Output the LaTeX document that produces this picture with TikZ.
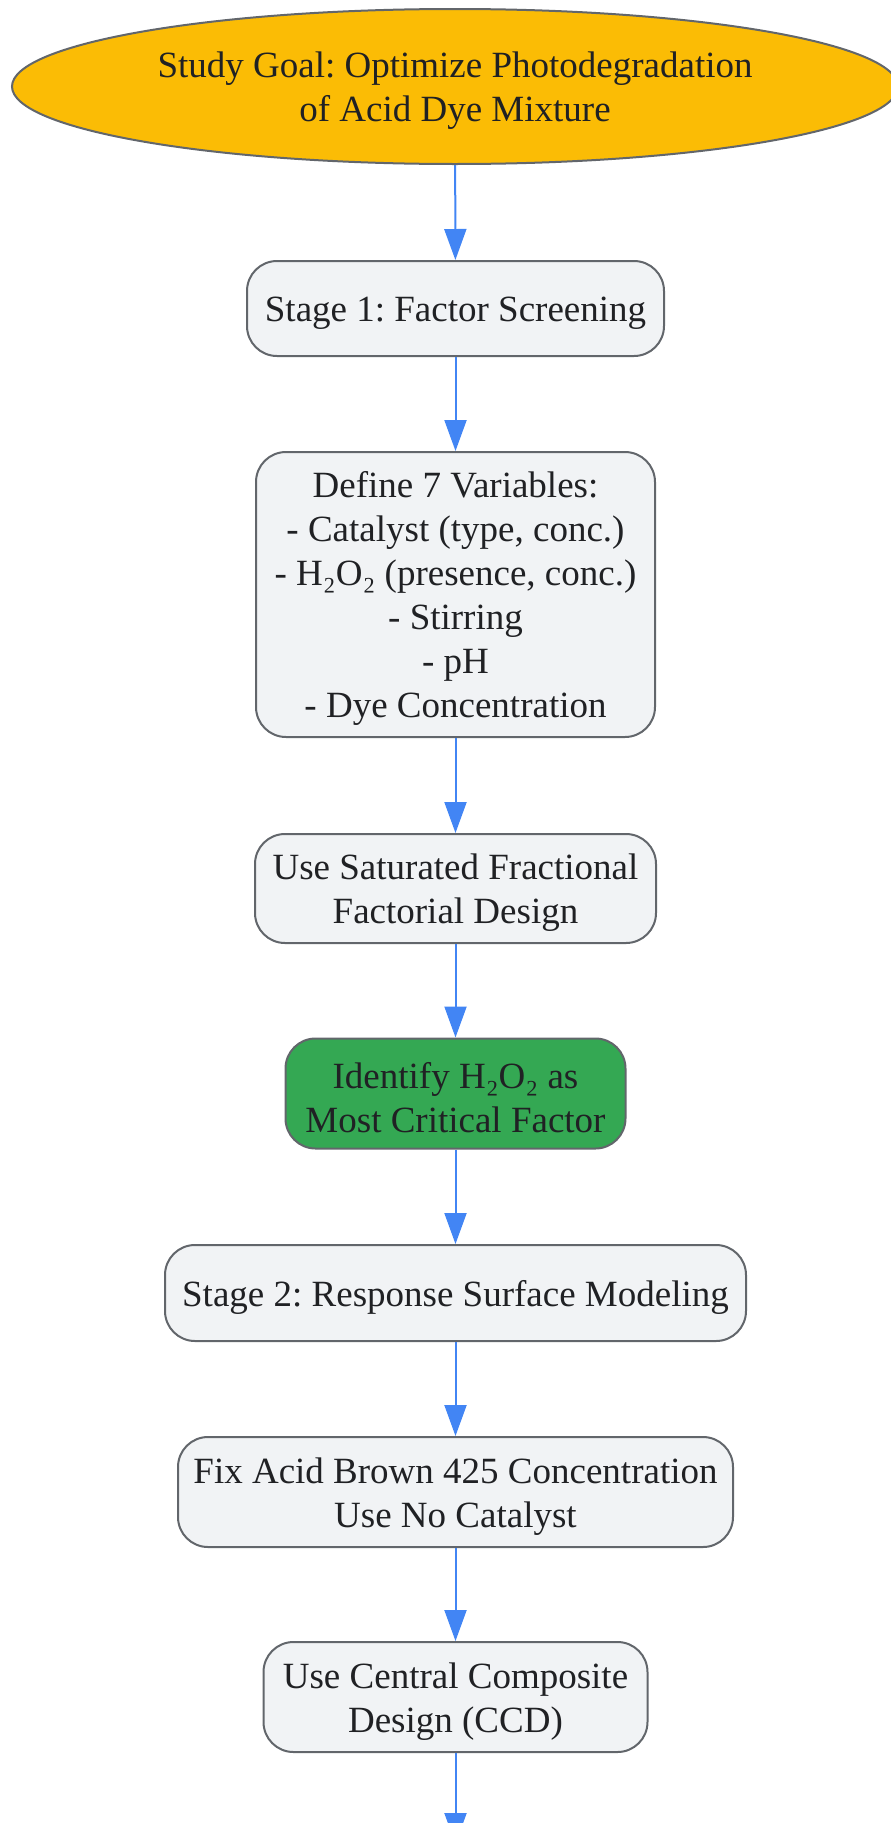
\documentclass[tikz,border=0pt]{standalone}
\usepackage{fontspec}
\setmainfont{Liberation Serif}
\frenchspacing
\usetikzlibrary{shapes.geometric,arrows.meta}
\definecolor{goalyellow}{HTML}{FBBC05}
\definecolor{keygreen}{HTML}{34A853}
\definecolor{boxgray}{HTML}{F1F3F5}
\definecolor{edgegray}{HTML}{62666B}
\definecolor{textdark}{HTML}{202124}
\definecolor{arrowblue}{HTML}{4285F4}
\newcommand{\topstrut}{\rule{0pt}{34pt}}
\tikzset{
  goalnode/.style={ellipse, draw=edgegray, line width=2pt, fill=goalyellow, text=textdark,
    inner sep=0pt, align=center, font=\fontsize{37}{44}\selectfont},
  boxnode/.style={rectangle, rounded corners=30pt, draw=edgegray, line width=2pt, fill=boxgray,
    text=textdark, inner sep=0pt, align=center, font=\fontsize{37}{44}\selectfont},
  keynode/.style={boxnode, fill=keygreen},
  flowarrow/.style={draw=arrowblue, line width=2pt, -{Triangle[length=31pt,width=22pt]}}
}
\begin{document}
\begin{tikzpicture}[x=1pt,y=-1pt]
        \useasboundingbox (0,0) rectangle (891,1823);
        \node[goalnode, minimum width=886pt, minimum height=155pt] (goal) at (455,86.5)
          {\topstrut Study Goal: Optimize Photodegradation\\of Acid Dye Mixture};
        \node[boxnode, minimum width=417pt, minimum height=95pt] (stageone) at (455.5,308.5)
          {\topstrut Stage 1: Factor Screening};
        \node[boxnode, minimum width=399pt, minimum height=285pt] (vars) at (455.5,594.5)
          {\topstrut Define 7 Variables:\\- Catalyst (type, conc.)\\- H₂O₂ (presence, conc.)\\- Stirring\\- pH\\- Dye Concentration};
        \node[boxnode, minimum width=401pt, minimum height=109pt] (ffd) at (455.5,888.5)
          {\topstrut Use Saturated Fractional\\Factorial Design};
        \node[keynode, minimum width=340pt, minimum height=110pt] (critical) at (455.5,1093.5)
          {\topstrut Identify H₂O₂ as\\Most Critical Factor};
        \node[boxnode, minimum width=581pt, minimum height=96pt] (stagetwo) at (455.5,1293)
          {\topstrut Stage 2: Response Surface Modeling};
        \node[boxnode, minimum width=555pt, minimum height=110pt] (fixdye) at (455.5,1492)
          {\topstrut Fix Acid Brown 425 Concentration\\Use No Catalyst};
        \node[boxnode, minimum width=384pt, minimum height=110pt] (ccd) at (455.5,1697)
          {\topstrut Use Central Composite\\Design (CCD)};
        \coordinate (next) at (455.5,1844);
        \draw[flowarrow] (goal) -- (stageone);
        \draw[flowarrow] (stageone) -- (vars);
        \draw[flowarrow] (vars) -- (ffd);
        \draw[flowarrow] (ffd) -- (critical);
        \draw[flowarrow] (critical) -- (stagetwo);
        \draw[flowarrow] (stagetwo) -- (fixdye);
        \draw[flowarrow] (fixdye) -- (ccd);
        \draw[flowarrow] (ccd) -- (next);
\end{tikzpicture}
\end{document}
